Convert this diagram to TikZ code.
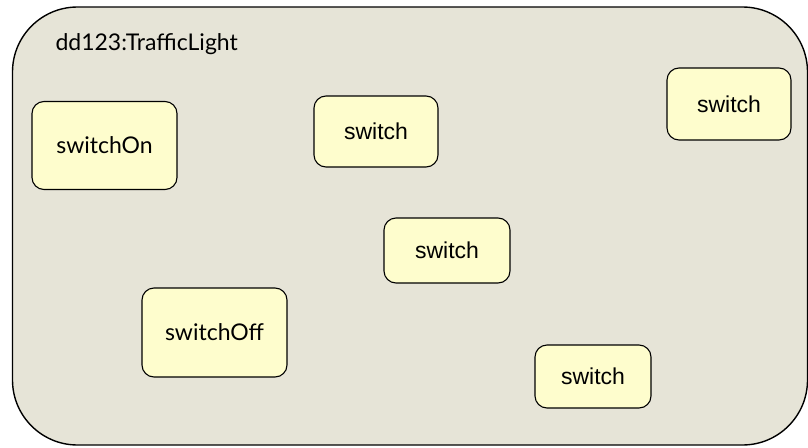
\documentclass[tikz,border=0pt]{standalone}
\usepackage{fontspec}
\setmainfont{Lato}
\newfontfamily\arialfont{Liberation Sans}
\usetikzlibrary{positioning}

\definecolor{frameback}{HTML}{E6E4D7}
\definecolor{stateback}{HTML}{FEFDCD}

\begin{document}
\begin{tikzpicture}[x=1pt, y=-1pt,
    every node/.style={font=\fontsize{23}{27}\selectfont},
    state/.style={draw, fill=stateback, rounded corners=12pt, line width=1.1pt, inner sep=0pt},
    action/.style={state, font=\arialfont\fontsize{23}{27}\selectfont}]
  \useasboundingbox (0,0) rectangle (808,447);

  % Frame
  \node[draw, fill=frameback, rounded corners=65pt, line width=1.4pt,
        minimum width=795pt, minimum height=438pt] (frame) at (410,226) {};
  \node[anchor=base west] (title) at (52,50) {dd123:TrafficLight};

  % States
  \node[state, minimum width=145pt, minimum height=88pt] (on) at (104.5,145.5) {switchOn};
  \node[state, minimum width=145pt, minimum height=89pt] (off) at (214.5,332.5) {switchOff};

  % Transitions
  \node[action, minimum width=124pt, minimum height=71pt] (sw1) at (376,131.5) {switch};
  \node[action, minimum width=124pt, minimum height=72pt] (sw2) at (729,104) {switch};
  \node[action, minimum width=126pt, minimum height=65pt] (sw3) at (447,250.5) {switch};
  \node[action, minimum width=116pt, minimum height=63pt] (sw4) at (593,376.5) {switch};
\end{tikzpicture}
\end{document}
